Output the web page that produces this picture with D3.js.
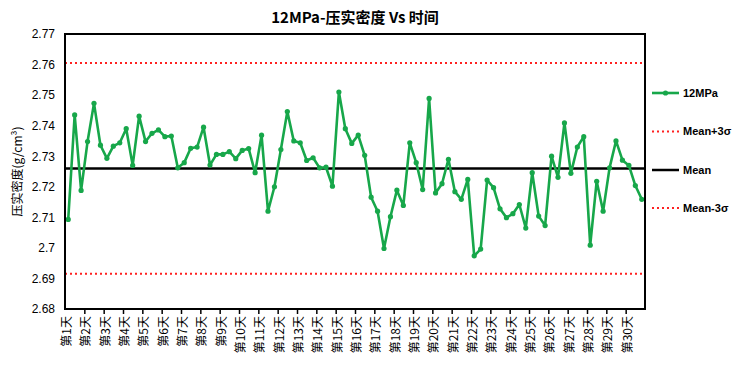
<!DOCTYPE html>
<html><head><meta charset="utf-8">
<script src="https://cdn.jsdelivr.net/npm/d3@7"></script>
<style>body{margin:0;background:#fff}svg{display:block}text{font-family:"Noto Sans CJK SC","Noto Sans",sans-serif}</style>
</head><body><svg id="c" width="747" height="373"></svg>
<script>
const title = "12MPa-压实密度 Vs 时间";
const yLabel = "压实密度(g/cm³)";
const days = d3.range(1, 31).map(d => "第" + d + "天");
const yTicks = [2.68, 2.69, 2.70, 2.71, 2.72, 2.73, 2.74, 2.75, 2.76, 2.77];
const density = [
 2.7093,2.7435,2.7188, 2.7348,2.7473,2.7336, 2.7293,2.7333,2.7344, 2.7390,2.7270,2.7431,
 2.7348,2.7375,2.7386, 2.7364,2.7366,2.7262, 2.7279,2.7326,2.7330, 2.7395,2.7271,2.7306,
 2.7306,2.7315,2.7292, 2.7319,2.7325,2.7246, 2.7369,2.7120,2.7200, 2.7322,2.7446,2.7350,
 2.7344,2.7286,2.7295, 2.7262,2.7264,2.7202, 2.7510,2.7390,2.7342, 2.7369,2.7303,2.7166,
 2.7120,2.6998,2.7102, 2.7189,2.7139,2.7344, 2.7279,2.7191,2.7489, 2.7180,2.7210,2.7290,
 2.7184,2.7159,2.7224, 2.6974,2.6996,2.7222, 2.7197,2.7128,2.7099, 2.7112,2.7142,2.7065,
 2.7246,2.7104,2.7073, 2.7300,2.7231,2.7409, 2.7244,2.7330,2.7364, 2.7009,2.7218,2.7120,
 2.7262,2.7350,2.7287, 2.7270,2.7204,2.7159
];
const meanVal = 2.7260;
const upperVal = 2.7605;
const lowerVal = 2.6915;
const legendNames = ["12MPa", "Mean+3σ", "Mean", "Mean-3σ"];

const green = "#17a74a", red = "#ff2020";
const L = 65, R = 645, T = 34, B = 309;
const svg = d3.select("#c");
const n = density.length;
const x = d3.scaleLinear().domain([0, n]).range([L, R]);
const y = d3.scaleLinear().domain([2.68, 2.77]).range([B, T]);

// title
svg.append("text").attr("x", 355).attr("y", 23).attr("text-anchor", "middle")
  .attr("font-size", 15).attr("font-weight", "bold").text(title);

// y axis
const ya = svg.append("g").attr("transform", `translate(${L},0)`)
  .call(d3.axisLeft(y).tickValues(yTicks).tickSize(0).tickPadding(10).tickFormat(d => String(+d.toFixed(2))));
ya.select(".domain").remove();
ya.selectAll("text").attr("font-size", 12).attr("fill", "#000")
  .style("font-family", "'Liberation Sans',Arial,sans-serif");

svg.append("text").attr("transform", `translate(22,${(T + B) / 2}) rotate(-90)`)
  .attr("text-anchor", "middle").attr("font-size", 12).text(yLabel);

// x axis tick marks
const xa = svg.append("g").attr("transform", `translate(0,${B})`)
  .call(d3.axisBottom(x).tickValues(d3.range(3, n, 3)).tickSize(5).tickFormat(""));
xa.select(".domain").remove();
xa.selectAll("line").attr("stroke", "#000").attr("stroke-width", 1.5);

// x labels
const xl = svg.append("g").attr("transform", `translate(0,${B})`)
  .call(d3.axisBottom(x).tickValues(d3.range(0, n, 3).map(i => i + 0.5)).tickSize(0)
    .tickFormat((d, i) => days[i]));
xl.select(".domain").remove();
xl.selectAll("text").attr("font-size", 12).attr("fill", "#000")
  .attr("transform", "rotate(-90)").attr("text-anchor", "end")
  .attr("x", -7).attr("y", -2).attr("dy", "0.35em");

// reference lines
const refLine = (v, color, dash, w) => svg.append("line")
  .attr("x1", L).attr("x2", R).attr("y1", y(v)).attr("y2", y(v))
  .attr("stroke", color).attr("stroke-width", w).attr("stroke-dasharray", dash);
refLine(upperVal, red, "2,3", 2);
refLine(lowerVal, red, "2,3", 2);
refLine(meanVal, "#000", null, 2.5);

// series
const line = d3.line().x((d, i) => x(i + 0.5)).y(d => y(d));
svg.append("path").datum(density).attr("d", line).attr("fill", "none")
  .attr("stroke", green).attr("stroke-width", 2.6).attr("stroke-linejoin", "round");
svg.append("g").selectAll("circle").data(density).join("circle")
  .attr("cx", (d, i) => x(i + 0.5)).attr("cy", d => y(d)).attr("r", 2.6).attr("fill", green);

// frame
svg.append("rect").attr("x", L).attr("y", T).attr("width", R - L).attr("height", B - T)
  .attr("fill", "none").attr("stroke", "#000").attr("stroke-width", 2);

// legend
const lg = svg.append("g");
const lys = [93, 131.5, 170, 208];
legendNames.forEach((name, i) => {
  const g = lg.append("g").attr("transform", `translate(0,${lys[i]})`);
  if (i === 0) {
    g.append("line").attr("x1", 652).attr("x2", 679).attr("stroke", green).attr("stroke-width", 2.6);
    g.append("circle").attr("cx", 665.5).attr("r", 2.6).attr("fill", green);
  } else if (i === 2) {
    g.append("line").attr("x1", 652).attr("x2", 679).attr("stroke", "#000").attr("stroke-width", 2.5);
  } else {
    g.append("line").attr("x1", 652).attr("x2", 679).attr("stroke", red).attr("stroke-width", 2).attr("stroke-dasharray", "2,3");
  }
  g.append("text").attr("x", 683).attr("dy", "0.35em").attr("font-size", 11).attr("font-weight", "bold")
    .style("font-family", "'Liberation Sans',Arial,sans-serif").text(name);
});
</script></body></html>
